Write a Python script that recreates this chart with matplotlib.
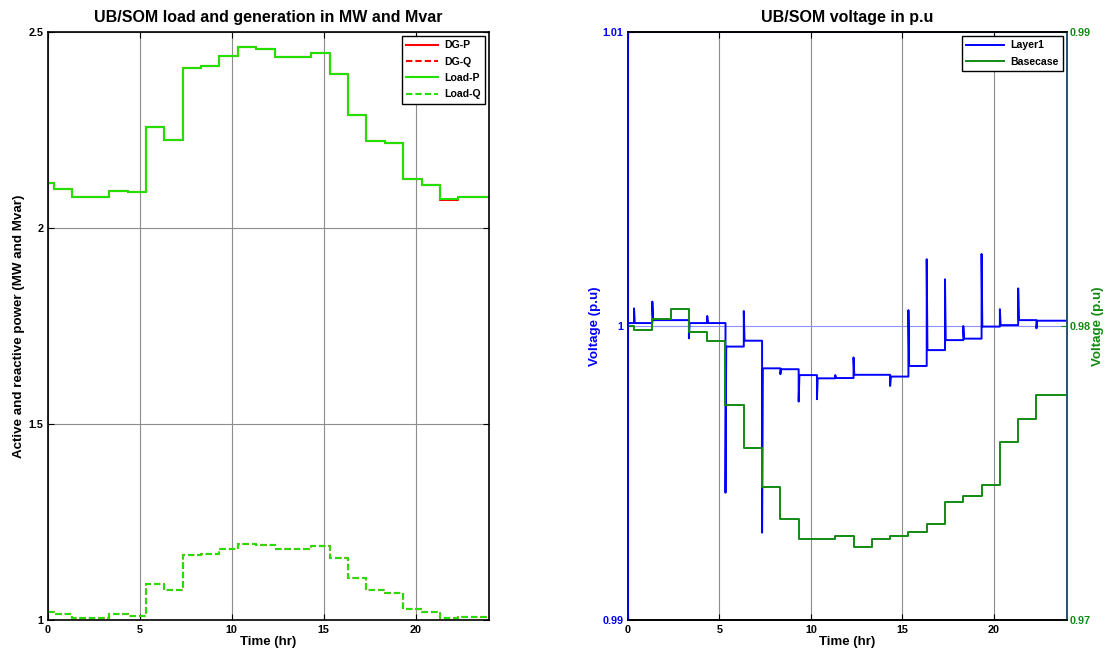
import matplotlib
matplotlib.use('Agg')
import matplotlib.pyplot as plt

plt.rcParams['font.family'] = ['Liberation Sans', 'DejaVu Sans']
plt.rcParams['font.weight'] = 'bold'

# times (hr) where the hourly profile steps, last one is end of day
step_t = [0, 0.33, 1.33, 2.33, 3.33, 4.33, 5.33, 6.33, 7.33, 8.33, 9.33, 10.33,
          11.33, 12.33, 13.33, 14.33, 15.33, 16.33, 17.33, 18.33, 19.33, 20.33,
          21.33, 22.33, 24]

# left plot: load and DG (MW / Mvar), one value per step interval
load_p = [2.114, 2.099, 2.078, 2.078, 2.095, 2.091, 2.258, 2.224, 2.408, 2.412,
          2.440, 2.463, 2.456, 2.436, 2.436, 2.447, 2.393, 2.288, 2.223, 2.216,
          2.126, 2.110, 2.073, 2.079]
load_q = [1.021, 1.0145, 1.006, 1.006, 1.0145, 1.011, 1.092, 1.076, 1.165, 1.168,
          1.182, 1.195, 1.192, 1.182, 1.182, 1.190, 1.158, 1.108, 1.0765, 1.069,
          1.029, 1.021, 1.004, 1.007]
# DG output follows the load (sits right under the green lines)
dg_p = [2.114, 2.099, 2.078, 2.078, 2.095, 2.091, 2.258, 2.224, 2.408, 2.412,
        2.440, 2.463, 2.456, 2.436, 2.436, 2.447, 2.393, 2.288, 2.223, 2.216,
        2.126, 2.110, 2.072, 2.079]
dg_q = [1.021, 1.0145, 1.006, 1.006, 1.0145, 1.011, 1.092, 1.076, 1.165, 1.168,
        1.182, 1.195, 1.192, 1.182, 1.182, 1.190, 1.158, 1.108, 1.0765, 1.069,
        1.029, 1.021, 1.004, 1.007]

# right plot: voltages (p.u)
layer1_v = [1.0001, 1.0001, 1.0002, 1.0002, 1.0001, 1.0001, 0.9993, 0.9995,
            0.99856, 0.99853, 0.99833, 0.99822, 0.99823, 0.99834, 0.99834, 0.99828,
            0.99864, 0.99918, 0.99952, 0.99957, 0.99998, 1.00003, 1.0002, 1.00018]
# transient peak at each step change
layer1_spike = [1.0006, 1.00083, 1.0002, 0.99958, 1.00034, 0.99433, 1.00051,
                0.99297, 0.99836, 0.99743, 0.99751, 0.99833, 0.99893, 0.99834,
                0.99796, 1.00054, 1.00227, 1.00159, 1.0, 1.00245, 1.00057,
                1.00128, 0.99992]
base_v = [0.9800, 0.97986, 0.98025, 0.98058, 0.97981, 0.9795, 0.97732, 0.97586,
          0.97452, 0.97342, 0.97276, 0.97276, 0.97285, 0.9725, 0.97276, 0.97287,
          0.97298, 0.97328, 0.9740, 0.97423, 0.9746, 0.97604, 0.97683, 0.97766]

BLUE = '#0000ff'
DKGREEN = '#138a13'
LIME = '#22e000'
GRID = '#8c8c8c'


def stepped(vals):
    return vals + [vals[-1]]


fig = plt.figure(figsize=(11.07, 6.54), dpi=100)

# ---- left: load and generation
ax1 = fig.add_axes([48/1107, 34/654, 441/1107, 588/654])
ax1.step(step_t, stepped(dg_p), where='post', color='red', lw=1.5, label='DG-P')
ax1.step(step_t, stepped(dg_q), where='post', color='red', lw=1.5, ls='--',
         dashes=(3, 1.5), label='DG-Q')
ax1.step(step_t, stepped(load_p), where='post', color=LIME, lw=1.5, label='Load-P')
ax1.step(step_t, stepped(load_q), where='post', color=LIME, lw=1.5, ls='--',
         dashes=(3, 1.5), label='Load-Q')
ax1.set_xlim(0, 24)
ax1.set_ylim(1, 2.5)
ax1.set_xticks([0, 5, 10, 15, 20])
ax1.set_yticks([1, 1.5, 2, 2.5])
ax1.set_yticklabels(['1', '1.5', '2', '2.5'])
ax1.grid(True, color=GRID, lw=0.8)
ax1.tick_params(direction='in', top=True, right=True, length=4, labelsize=7.8)
for s in ax1.spines.values():
    s.set_linewidth(1.2)
ax1.set_title('UB/SOM load and generation in MW and Mvar', fontsize=11.5,
              fontweight='bold', pad=7)
ax1.set_xlabel('Time (hr)', fontsize=9.5, fontweight='bold', labelpad=1)
ax1.set_ylabel('Active and reactive power (MW and Mvar)', fontsize=9.6,
               fontweight='bold', labelpad=2)
leg = ax1.legend(loc='upper right', fontsize=7.6, fancybox=False, edgecolor='black',
                 framealpha=1, handlelength=3.0, handletextpad=0.6,
                 labelspacing=0.6, borderaxespad=0.4)
leg.get_frame().set_linewidth(1.0)

# ---- right: voltages
ax2 = fig.add_axes([628/1107, 34/654, 439/1107, 588/654])
ax2r = ax2.twinx()

tt, vv = [0.0], [layer1_v[0]]
for k, tk in enumerate(step_t[1:-1]):
    tt += [tk, tk, tk + 0.04]
    vv += [layer1_v[k], layer1_spike[k], layer1_v[k + 1]]
tt.append(24)
vv.append(layer1_v[-1])
l1, = ax2.plot(tt, vv, color=BLUE, lw=1.4, label='Layer1')
l2, = ax2r.step(step_t, stepped(base_v), where='post', color=DKGREEN, lw=1.4,
                label='Basecase')

ax2.set_xlim(0, 24)
ax2.set_ylim(0.99, 1.01)
ax2r.set_ylim(0.97, 0.99)
ax2.set_xticks([0, 5, 10, 15, 20])
ax2.set_yticks([0.99, 1.0, 1.01])
ax2.set_yticklabels(['0.99', '1', '1.01'])
ax2r.set_yticks([0.97, 0.98, 0.99])
ax2r.set_yticklabels(['0.97', '0.98', '0.99'])
ax2.grid(True, axis='x', color=GRID, lw=0.8)
ax2.grid(True, axis='y', color='#9090ff', lw=0.8)
ax2.tick_params(direction='in', top=True, length=4, labelsize=7.8)
ax2.tick_params(axis='y', colors=BLUE)
ax2.tick_params(axis='x', colors='black')
ax2r.tick_params(direction='in', length=4, labelsize=7.8, colors=DKGREEN, pad=2)
for s in ax2.spines.values():
    s.set_linewidth(1.2)
for s in ax2r.spines.values():
    s.set_linewidth(1.2)
ax2r.spines['left'].set_color(BLUE)
ax2r.spines['right'].set_color('#2b6080')
ax2.set_title('UB/SOM voltage in p.u', fontsize=11.5, fontweight='bold', pad=7)
ax2.set_xlabel('Time (hr)', fontsize=9.5, fontweight='bold', labelpad=1)
ax2.set_ylabel('Voltage (p.u)', fontsize=9.6, fontweight='bold', color=BLUE,
               labelpad=1)
ax2r.set_ylabel('Voltage (p.u)', fontsize=9.6, fontweight='bold', color=DKGREEN,
                labelpad=1)
leg2 = ax2r.legend([l1, l2], ['Layer1', 'Basecase'], loc='upper right',
                   fontsize=7.6, fancybox=False, edgecolor='black', framealpha=1,
                   handlelength=3.6, handletextpad=0.6, labelspacing=0.6,
                   borderaxespad=0.4)
leg2.get_frame().set_linewidth(1.0)

fig.savefig('out.png', dpi=100)
